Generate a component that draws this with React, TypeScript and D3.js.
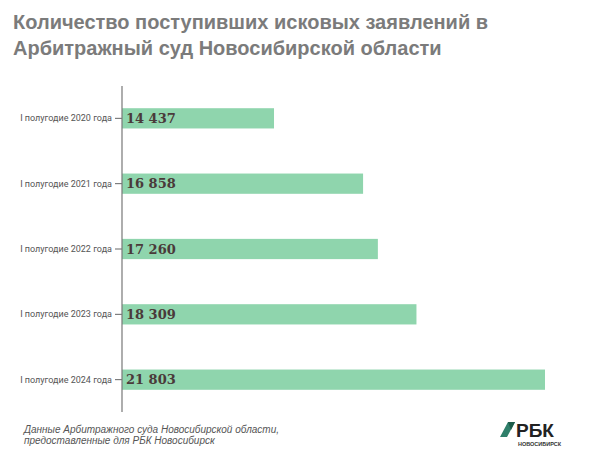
import React from "react";
import * as d3 from "d3";

const categories = [
  "I полугодие 2020 года",
  "I полугодие 2021 года",
  "I полугодие 2022 года",
  "I полугодие 2023 года",
  "I полугодие 2024 года",
];
const values = [14437, 16858, 17260, 18309, 21803];
const valueLabels = ["14 437", "16 858", "17 260", "18 309", "21 803"];
const titleLines = [
  "Количество поступивших исковых заявлений в",
  "Арбитражный суд Новосибирской области",
];
const noteLines = [
  "Данные Арбитражного суда Новосибирской области,",
  "предоставленные для РБК Новосибирск",
];

export default function App() {
  const W = 600, H = 456;
  const axisX = 122;
  const x = d3.scaleLinear().domain([10305, 21803]).range([axisX, 545]);
  const y = d3.scaleBand().domain(categories).range([86, 412]).paddingInner(0.69).paddingOuter(0.34);
  const bh = y.bandwidth();
  return (
    <svg width={W} height={H} style={{ position: "absolute", left: 0, top: 0, background: "#fff" }}>
      <g fontFamily="Liberation Sans, Arial, sans-serif" fontWeight="bold" fill="#7b7b7b" fontSize={20}>
        {titleLines.map((t, i) => (
          <text key={i} x={13} y={29 + i * 26}>{t}</text>
        ))}
      </g>
      {categories.map((c, i) => {
        const yc = (y(c) as number) + bh / 2;
        return (
          <g key={c}>
            <rect x={axisX} y={y(c)} width={x(values[i]) - axisX} height={bh} fill="#8fd5ad" />
            <line x1={115} x2={axisX} y1={yc} y2={yc} stroke="#666" strokeWidth={1} />
            <text x={112} y={yc} dy="0.35em" textAnchor="end" fontFamily="Roboto, sans-serif" fontSize={9} fill="#555">{c}</text>
            <text x={126} y={yc} dy="0.36em" fontFamily="DejaVu Serif, serif" fontWeight="bold" fontSize={13} fill="#4a3a3a">{valueLabels[i]}</text>
          </g>
        );
      })}
      <line x1={axisX} x2={axisX} y1={86} y2={412} stroke="#777" strokeWidth={1.2} />
      <g fontFamily="Liberation Sans, Arial, sans-serif" fontStyle="italic" fontSize={10} fill="#555">
        {noteLines.map((t, i) => (
          <text key={i} x={24} y={433 + i * 11}>{t}</text>
        ))}
      </g>
      <g>
        <polygon points="500,437 508,422 515,422 507,437" fill="#2f7f6a" />
        <polygon points="508,422 515,422 511,430" fill="#1d5c4a" />
        <text x={516} y={437} fontFamily="Liberation Sans, Arial, sans-serif" fontWeight="bold" fontSize={19} fill="#222">РБК</text>
        <text x={518} y={446} fontFamily="Liberation Sans, Arial, sans-serif" fontWeight="bold" fontSize={5.5} fill="#333">НОВОСИБИРСК</text>
      </g>
    </svg>
  );
}
